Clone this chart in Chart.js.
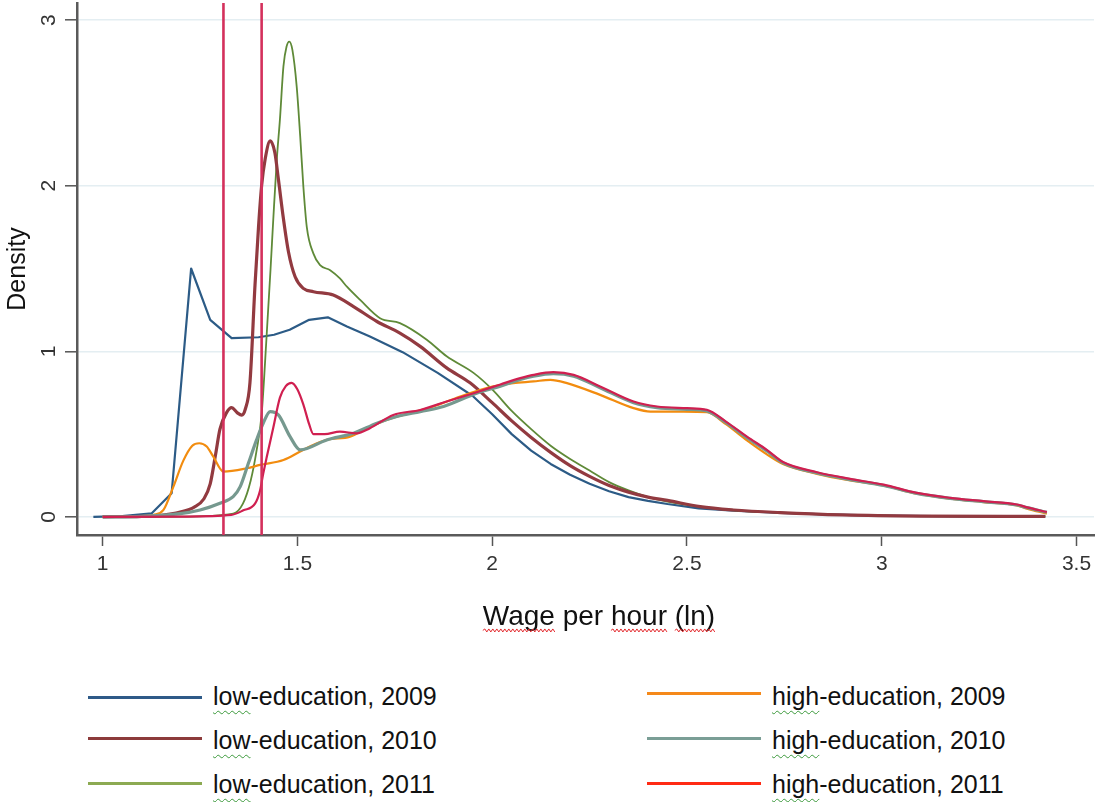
<!DOCTYPE html>
<html>
<head>
<meta charset="utf-8">
<script src="https://cdn.jsdelivr.net/npm/chart.js@4.4.1/dist/chart.umd.min.js"></script>
<style>
  html, body { margin: 0; padding: 0; background: #fff; }
  #wrap { position: relative; width: 1096px; height: 802px; overflow: hidden;
          font-family: "Liberation Sans", Arial, sans-serif; }
  #chart { position: absolute; left: 0; top: 0; }
  .key-line { position: absolute; height: 3px; }
  .key-text { position: absolute; font-size: 25px; line-height: 25px; color: #111; white-space: nowrap; }
  .sq { text-decoration: underline wavy #3c9a3c; text-decoration-thickness: 1px; text-underline-offset: 5px; }
</style>
</head>
<body>
<div id="wrap">
  <canvas id="chart" width="1096" height="640"></canvas>
  <div id="legend"></div>
</div>
<script>
// Kernel density estimates of log hourly wage, by education group and year: [wage (ln), density]
const lowEdu2009 = [
  [0.976, 0], [1.05, 0.005], [1.126, 0.022], [1.177, 0.143], [1.227, 1.50], [1.276, 1.19],
  [1.331, 1.08], [1.40, 1.085], [1.44, 1.10], [1.48, 1.13], [1.53, 1.19], [1.578, 1.205],
  [1.627, 1.15], [1.686, 1.09], [1.77, 0.995], [1.86, 0.87], [1.95, 0.73], [2.00, 0.62],
  [2.05, 0.50], [2.10, 0.40], [2.15, 0.32], [2.20, 0.255], [2.25, 0.20], [2.30, 0.155],
  [2.35, 0.12], [2.40, 0.097], [2.45, 0.078], [2.53, 0.052], [2.62, 0.038], [2.74, 0.025],
  [2.85, 0.015], [3.0, 0.008], [3.2, 0.004], [3.42, 0.003]
];
const lowEdu2010 = [
  [1.0, 0], [1.10, 0.004], [1.15, 0.01], [1.199, 0.03], [1.235, 0.06], [1.26, 0.11],
  [1.276, 0.20], [1.29, 0.38], [1.301, 0.53], [1.318, 0.63], [1.331, 0.66], [1.345, 0.63],
  [1.357, 0.615], [1.366, 0.65], [1.378, 0.81], [1.391, 1.40], [1.40, 1.75], [1.408, 2.0],
  [1.417, 2.16], [1.43, 2.27], [1.442, 2.20], [1.451, 2.04], [1.464, 1.80], [1.477, 1.60],
  [1.494, 1.45], [1.515, 1.38], [1.541, 1.36], [1.592, 1.34], [1.644, 1.27], [1.704, 1.18],
  [1.763, 1.11], [1.815, 1.03], [1.883, 0.90], [1.943, 0.81], [2.0, 0.69], [2.05, 0.58],
  [2.10, 0.48], [2.15, 0.39], [2.20, 0.31], [2.25, 0.245], [2.30, 0.19], [2.35, 0.15],
  [2.40, 0.12], [2.45, 0.10], [2.534, 0.062], [2.619, 0.042], [2.739, 0.026],
  [2.9, 0.012], [3.1, 0.005], [3.42, 0.003]
];
const lowEdu2011 = [
  [1.0, 0], [1.2, 0.002], [1.335, 0.02], [1.36, 0.08], [1.38, 0.22], [1.395, 0.40],
  [1.408, 0.62], [1.421, 1.10], [1.431, 1.50], [1.438, 1.80], [1.447, 2.16], [1.455, 2.40],
  [1.464, 2.72], [1.472, 2.84], [1.479, 2.87], [1.487, 2.82], [1.498, 2.60], [1.507, 2.30],
  [1.515, 2.00], [1.524, 1.75], [1.541, 1.59], [1.558, 1.52], [1.584, 1.49], [1.609, 1.44],
  [1.627, 1.39], [1.661, 1.31], [1.712, 1.20], [1.763, 1.17], [1.832, 1.07], [1.883, 0.97],
  [1.952, 0.87], [2.0, 0.77], [2.05, 0.64], [2.10, 0.53], [2.15, 0.43], [2.20, 0.35],
  [2.25, 0.28], [2.30, 0.21], [2.35, 0.16], [2.40, 0.12], [2.45, 0.093],
  [2.534, 0.062], [2.62, 0.04], [2.74, 0.026], [2.9, 0.012], [3.1, 0.005], [3.42, 0.003]
];
const highEdu2009 = [
  [1.0, 0], [1.10, 0.004], [1.13, 0.012], [1.156, 0.042], [1.181, 0.18], [1.207, 0.34],
  [1.23, 0.43], [1.248, 0.445], [1.267, 0.425], [1.284, 0.364], [1.31, 0.274], [1.37, 0.294],
  [1.404, 0.314], [1.464, 0.344], [1.507, 0.395], [1.532, 0.425], [1.575, 0.465], [1.635, 0.485],
  [1.678, 0.536], [1.729, 0.586], [1.789, 0.627], [1.849, 0.667], [1.918, 0.727], [2.003, 0.788],
  [2.054, 0.808], [2.106, 0.818], [2.149, 0.828], [2.192, 0.808], [2.277, 0.737], [2.363, 0.657],
  [2.406, 0.636], [2.491, 0.636], [2.551, 0.632], [2.60, 0.56], [2.654, 0.462], [2.705, 0.378],
  [2.748, 0.318], [2.834, 0.26], [2.919, 0.22], [3.005, 0.19], [3.09, 0.14], [3.176, 0.11],
  [3.261, 0.09], [3.347, 0.07], [3.373, 0.05], [3.424, 0.02]
];
const highEdu2010 = [
  [1.0, 0], [1.10, 0.004], [1.199, 0.02], [1.25, 0.042], [1.301, 0.083], [1.335, 0.123],
  [1.353, 0.183], [1.374, 0.324], [1.395, 0.465], [1.412, 0.566], [1.43, 0.636], [1.451, 0.616],
  [1.481, 0.485], [1.507, 0.405], [1.575, 0.465], [1.644, 0.505], [1.704, 0.566], [1.755, 0.606],
  [1.815, 0.636], [1.875, 0.667], [1.96, 0.747], [2.021, 0.79], [2.072, 0.83], [2.106, 0.85],
  [2.157, 0.865], [2.209, 0.85], [2.277, 0.78], [2.363, 0.69], [2.423, 0.66], [2.50, 0.65],
  [2.551, 0.64], [2.60, 0.57], [2.654, 0.478], [2.705, 0.398], [2.748, 0.325], [2.834, 0.265],
  [2.919, 0.225], [3.005, 0.19], [3.09, 0.142], [3.176, 0.112], [3.261, 0.092], [3.347, 0.072],
  [3.373, 0.056], [3.424, 0.028]
];
const highEdu2011 = [
  [1.0, 0], [1.20, 0.002], [1.33, 0.012], [1.361, 0.04], [1.391, 0.08], [1.404, 0.16],
  [1.412, 0.26], [1.421, 0.36], [1.438, 0.54], [1.455, 0.72], [1.47, 0.79], [1.485, 0.81],
  [1.50, 0.77], [1.515, 0.68], [1.53, 0.56], [1.541, 0.50], [1.57, 0.50], [1.609, 0.515],
  [1.652, 0.505], [1.686, 0.536], [1.746, 0.616], [1.815, 0.646], [1.883, 0.697], [1.952, 0.747],
  [2.021, 0.80], [2.072, 0.838], [2.106, 0.858], [2.157, 0.874], [2.209, 0.858], [2.277, 0.788],
  [2.363, 0.697], [2.423, 0.667], [2.50, 0.657], [2.551, 0.647], [2.60, 0.576], [2.654, 0.485],
  [2.705, 0.405], [2.748, 0.33], [2.834, 0.27], [2.919, 0.23], [3.005, 0.195], [3.09, 0.145],
  [3.176, 0.115], [3.261, 0.095], [3.347, 0.075], [3.373, 0.058], [3.424, 0.03]
];

// Reference cut-offs (ln wage) marked with vertical lines
const cutoffs = [1.31, 1.408];

// Axis ranges and tick labels
const xRange = [0.934, 3.545];
const yRange = [-0.109, 3.103];
const xTickValues = [1, 1.5, 2, 2.5, 3, 3.5];
const yTickValues = [0, 1, 2, 3];
const xTitle = 'Wage per hour (ln)';

const FONT = '"Liberation Sans", Arial, Helvetica, sans-serif';

const series = [
  { label: 'low-education, 2009',  data: lowEdu2009,  color: '#2c5b86', width: 2.2, key: '#2e5a88', col: 0, row: 0, tension: 0,   order: 6 },
  { label: 'low-education, 2010',  data: lowEdu2010,  color: '#923a40', width: 3.2, key: '#8c3b3b', col: 0, row: 1, tension: 0.4, order: 4 },
  { label: 'low-education, 2011',  data: lowEdu2011,  color: '#5f8a38', width: 1.8, key: '#8caa52', col: 0, row: 2, tension: 0.4, order: 5 },
  { label: 'high-education, 2009', data: highEdu2009, color: '#f28c0f', width: 2.2, key: '#f5891a', col: 1, row: 0, tension: 0.4, order: 3 },
  { label: 'high-education, 2010', data: highEdu2010, color: '#76998f', width: 3.2, key: '#7a9e96', col: 1, row: 1, tension: 0.4, order: 2 },
  { label: 'high-education, 2011', data: highEdu2011, color: '#d01f50', width: 2.2, key: '#ff2a14', col: 1, row: 2, tension: 0.4, order: 1 }
];

const datasets = series.map(s => ({
  label: s.label,
  data: s.data.map(([x, y]) => ({ x, y })),
  borderColor: s.color,
  borderWidth: s.width,
  pointRadius: 0,
  fill: false,
  tension: s.tension,
  cubicInterpolationMode: s.tension ? 'monotone' : 'default',
  borderJoinStyle: 'round',
  order: s.order
}));

cutoffs.forEach(c => datasets.push({
  label: 'cutoff ' + c,
  data: [{ x: c, y: yRange[0] }, { x: c, y: yRange[1] }],
  borderColor: '#d4305c',
  borderWidth: 2.6,
  pointRadius: 0,
  fill: false,
  order: 0
}));

// x-axis title, placed a little right of the plot centre, with wavy proofing underlines
const xAxisTitle = {
  id: 'xAxisTitle',
  afterDraw(chart) {
    const ctx = chart.ctx;
    const size = 28;
    const cx = 599, cy = 617;
    ctx.save();
    ctx.font = `${size}px ${FONT}`;
    ctx.fillStyle = '#111';
    ctx.textAlign = 'center';
    ctx.textBaseline = 'middle';
    ctx.fillText(xTitle, cx, cy);
    const total = ctx.measureText(xTitle).width;
    const x0 = cx - total / 2;
    const y = cy + size * 0.48;
    ctx.strokeStyle = '#e2262a';
    ctx.lineWidth = 1;
    ['Wage', 'hour', '(ln)'].forEach(w => {
      const i = xTitle.indexOf(w);
      const a = x0 + ctx.measureText(xTitle.slice(0, i)).width;
      const b = a + ctx.measureText(w).width;
      ctx.beginPath();
      let up = true;
      ctx.moveTo(a, y);
      for (let px = a + 2; px <= b; px += 2) {
        ctx.lineTo(px, y + (up ? -1.5 : 1.5));
        up = !up;
      }
      ctx.stroke();
    });
    ctx.restore();
  }
};

new Chart(document.getElementById('chart'), {
  type: 'line',
  data: { datasets },
  options: {
    responsive: false,
    animation: false,
    devicePixelRatio: 1,
    layout: { padding: { top: 3, right: 2, left: 0, bottom: 0 } },
    plugins: { legend: { display: false }, tooltip: { enabled: false } },
    scales: {
      x: {
        type: 'linear',
        min: xRange[0],
        max: xRange[1],
        afterBuildTicks: s => { s.ticks = xTickValues.map(v => ({ value: v })); },
        afterFit: s => { s.height = 105; s.paddingLeft = 0; s.paddingRight = 0; },
        grid: { drawOnChartArea: false, drawTicks: true, tickLength: 11, tickColor: '#555', tickWidth: 1.5 },
        border: { display: true, color: '#5a5a5a', width: 2.5 },
        ticks: { autoSkip: false, maxRotation: 0, padding: 6, color: '#333',
                 font: { size: 21, family: FONT }, callback: v => String(v) },
        title: { display: false }
      },
      y: {
        min: yRange[0],
        max: yRange[1],
        afterBuildTicks: s => { s.ticks = yTickValues.map(v => ({ value: v })); },
        afterFit: s => { s.width = 77; s.paddingTop = 0; s.paddingBottom = 0; },
        grid: { color: '#e4eef2', lineWidth: 1.6, drawTicks: true, tickLength: 12, tickColor: '#555', tickWidth: 1.5 },
        border: { display: true, color: '#5a5a5a', width: 2.5 },
        ticks: { minRotation: 90, maxRotation: 90, crossAlign: 'center', padding: 10, color: '#333',
                 font: { size: 21, family: FONT }, callback: v => String(v) },
        title: { display: true, text: 'Density', color: '#111',
                 font: { size: 25, family: FONT }, padding: { top: 3, bottom: 0 } }
      }
    }
  },
  plugins: [xAxisTitle]
});

// Two-column key below the plot
const legend = document.getElementById('legend');
const rowLine = [[697, 738, 783], [693, 738, 783]];
const rowText = [684, 728, 772];
const colLine = [88, 647];
const colText = [213, 772];
series.forEach(s => {
  const line = document.createElement('div');
  line.className = 'key-line';
  line.style.left = colLine[s.col] + 'px';
  line.style.width = '114px';
  line.style.top = (rowLine[s.col][s.row] - 1.5) + 'px';
  line.style.background = s.key;
  legend.appendChild(line);

  const txt = document.createElement('div');
  txt.className = 'key-text';
  txt.style.left = colText[s.col] + 'px';
  txt.style.top = rowText[s.row] + 'px';
  const cut = s.label.indexOf('-');
  const word = document.createElement('span');
  word.className = 'sq';
  word.textContent = s.label.slice(0, cut);
  txt.appendChild(word);
  txt.appendChild(document.createTextNode(s.label.slice(cut)));
  legend.appendChild(txt);
});
</script>
</body>
</html>
